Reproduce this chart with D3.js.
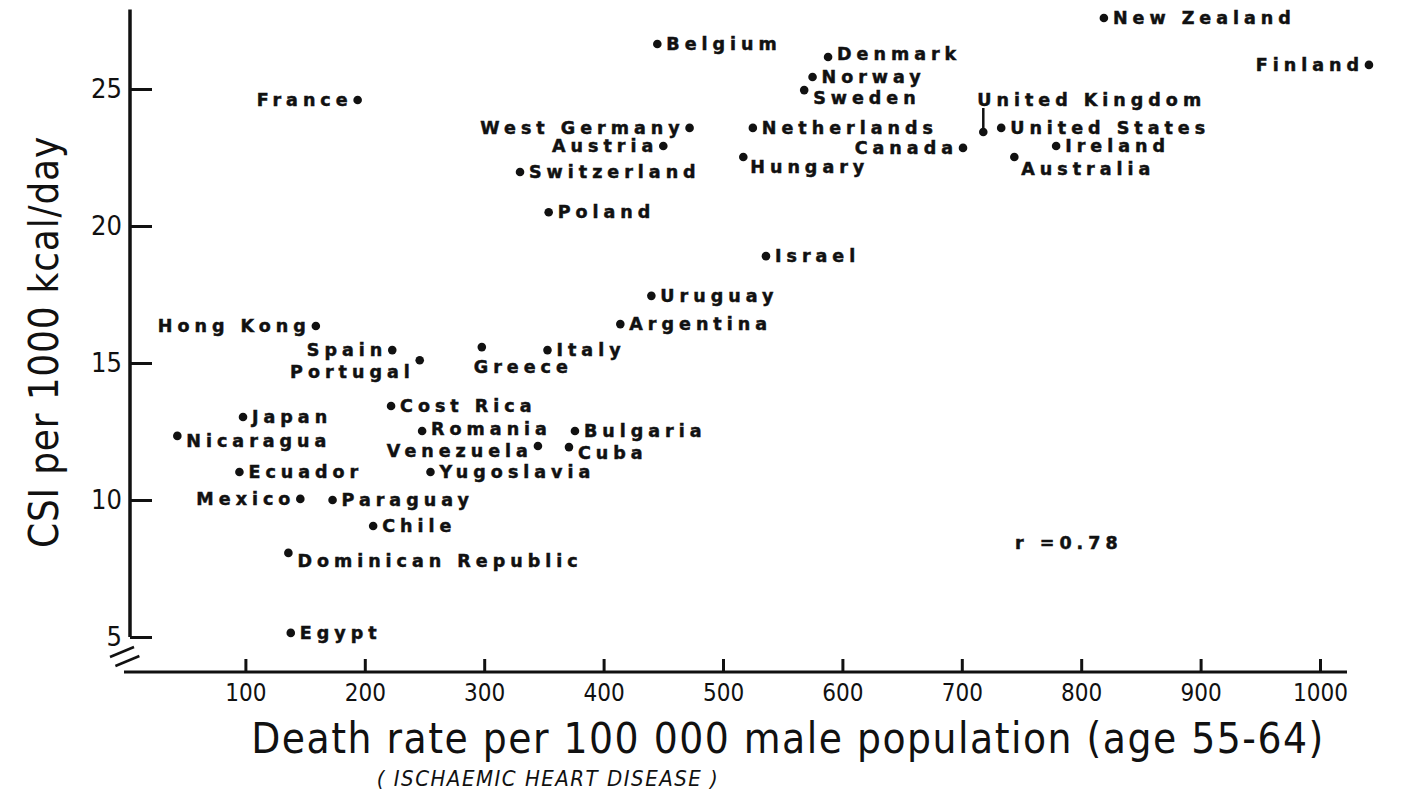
<!DOCTYPE html>
<html>
<head>
<meta charset="utf-8">
<script src="https://cdn.jsdelivr.net/npm/d3@7"></script>
<style>
  body { margin: 0; background: #fff; }
  svg { display: block; }
  .lbl { font-family: "DejaVu Sans", sans-serif; font-weight: bold; font-size: 17.5px; letter-spacing: 5px; fill: #111; stroke: #111; stroke-width: 0.5px; }
  .tick text { font-family: "DejaVu Sans Condensed", "DejaVu Sans", sans-serif; fill: #111; }
</style>
</head>
<body>
<svg width="1410" height="796"></svg>
<script>
// countries, death rate (x) and CSI (y)
var countries = ["France", "Hong Kong", "Spain", "Portugal", "Greece", "Italy", "Argentina", "Uruguay",
  "Israel", "Poland", "Switzerland", "Austria", "West Germany", "Belgium", "Denmark", "Norway", "Sweden",
  "Netherlands", "Hungary", "Canada", "United Kingdom", "United States", "Ireland", "Australia",
  "New Zealand", "Finland", "Japan", "Nicaragua", "Ecuador", "Mexico", "Paraguay", "Chile",
  "Dominican Republic", "Egypt", "Cost Rica", "Romania", "Venezuela", "Bulgaria", "Cuba", "Yugoslavia"];
var deathRate = [194, 159, 223, 246, 298, 353, 414, 440,
  536, 354, 330, 450, 472, 445, 588, 575, 568,
  525, 517, 701, 718, 733, 779, 744,
  819, 1041, 98, 43, 95, 146, 173, 207,
  136, 138, 222, 248, 345, 376, 371, 255];
var csi = [24.6, 16.35, 15.47, 15.1, 15.58, 15.47, 16.42, 17.45,
  18.9, 20.5, 21.97, 22.92, 23.58, 26.64, 26.17, 25.44, 24.96,
  23.58, 22.52, 22.85, 23.43, 23.58, 22.92, 22.52,
  27.59, 25.88, 13.03, 12.34, 11.02, 10.04, 10.0, 9.05,
  8.07, 5.15, 13.43, 12.52, 11.97, 12.52, 11.93, 11.02];
var xTicks = [100, 200, 300, 400, 500, 600, 700, 800, 900, 1000];
var yTicks = [5, 10, 15, 20, 25];
var correlation = "r =0.78";

// label placement: side, dx, dy
var place = {
  "France": ["l", -5, 0], "Hong Kong": ["l", -5, 0], "Spain": ["l", -5, 0], "Portugal": ["l", -5, 12],
  "Greece": ["s", -8, 20], "Canada": ["l", -5, 0], "Austria": ["l", -5, 0], "West Germany": ["l", -5, 0],
  "Finland": ["l", -5, 0], "Mexico": ["l", -5, 0], "Venezuela": ["l", -5, 5],
  "Sweden": ["r", 9, 8], "Hungary": ["r", 7, 10], "Australia": ["r", 7, 12], "Nicaragua": ["r", 9, 5],
  "Cuba": ["r", 9, 6], "Dominican Republic": ["r", 9, 8], "Denmark": ["r", 9, -3],
  "United Kingdom": ["s", -6, -32], "Romania": ["r", 9, -2]
};

var svg = d3.select("svg");
var x = d3.scaleLinear().domain([0, 1000]).range([126, 1320]);
var y = d3.scaleLinear().domain([5, 25]).range([637, 89]);
var axisX = 130, baseY = 672;
var condensed = "'DejaVu Sans Condensed', 'DejaVu Sans', sans-serif";

// y axis
var gy = svg.append("g").attr("transform", "translate(" + axisX + ",0)")
  .call(d3.axisLeft(y).tickValues(yTicks).tickSize(-22).tickPadding(8));
gy.select(".domain").remove();
gy.selectAll(".tick line").attr("stroke", "#111").attr("stroke-width", 3);
gy.selectAll(".tick text").attr("font-size", 27);
svg.append("line").attr("x1", axisX).attr("x2", axisX).attr("y1", y(27.9)).attr("y2", y(5))
  .attr("stroke", "#111").attr("stroke-width", 3.5);

// break marks
[0, 9].forEach(function (o) {
  svg.append("line").attr("x1", 110 + o * 0.6).attr("y1", 657 + o).attr("x2", 134 + o * 0.6).attr("y2", 647 + o)
    .attr("stroke", "#111").attr("stroke-width", 2.5);
});

// x axis
var gx = svg.append("g").attr("transform", "translate(0," + baseY + ")")
  .call(d3.axisBottom(x).tickValues(xTicks).tickFormat(d3.format("d")).tickSize(-13).tickPadding(12));
gx.select(".domain").remove();
gx.selectAll(".tick line").attr("stroke", "#111").attr("stroke-width", 3);
gx.selectAll(".tick text").attr("font-size", 24);
svg.append("line").attr("x1", 124).attr("x2", 1347).attr("y1", baseY).attr("y2", baseY)
  .attr("stroke", "#111").attr("stroke-width", 3);

// axis titles
svg.append("text").attr("x", 788).attr("y", 753).attr("text-anchor", "middle")
  .style("font-family", condensed).attr("font-size", 42).attr("letter-spacing", 1.5).attr("fill", "#111")
  .text("Death rate per 100 000 male population  (age 55-64)");
svg.append("text").attr("x", 548).attr("y", 786).attr("text-anchor", "middle")
  .style("font-family", condensed).attr("font-style", "italic")
  .attr("font-size", 22).attr("letter-spacing", 1.5).attr("fill", "#111")
  .text("( ISCHAEMIC HEART DISEASE )");
svg.append("text").attr("transform", "translate(58,342) rotate(-90)").attr("text-anchor", "middle")
  .style("font-family", condensed).attr("font-size", 40).attr("letter-spacing", 0.8).attr("fill", "#111")
  .text("CSI per 1000 kcal/day");

// points
var pts = countries.map(function (c, i) { return { name: c, dr: deathRate[i], csi: csi[i] }; });
var g = svg.append("g");
g.selectAll("circle").data(pts).enter().append("circle")
  .attr("cx", function (d) { return x(d.dr); })
  .attr("cy", function (d) { return y(d.csi); })
  .attr("r", 4.3).attr("fill", "#111");

g.selectAll("text").data(pts).enter().append("text")
  .attr("class", "lbl")
  .attr("x", function (d) { var p = place[d.name] || ["r", 9, 0]; return x(d.dr) + p[1]; })
  .attr("y", function (d) { var p = place[d.name] || ["r", 9, 0]; return y(d.csi) + p[2] + 6; })
  .attr("text-anchor", function (d) { var p = place[d.name] || ["r"]; return p[0] === "l" ? "end" : "start"; })
  .text(function (d) { return d.name; });

// connector for United Kingdom
var uk = pts[countries.indexOf("United Kingdom")];
svg.append("line").attr("x1", x(uk.dr)).attr("x2", x(uk.dr))
  .attr("y1", y(uk.csi) - 24).attr("y2", y(uk.csi) - 4)
  .attr("stroke", "#111").attr("stroke-width", 2.5);

svg.append("text").attr("class", "lbl").attr("x", 1015).attr("y", 549).text(correlation);
</script>
</body>
</html>
